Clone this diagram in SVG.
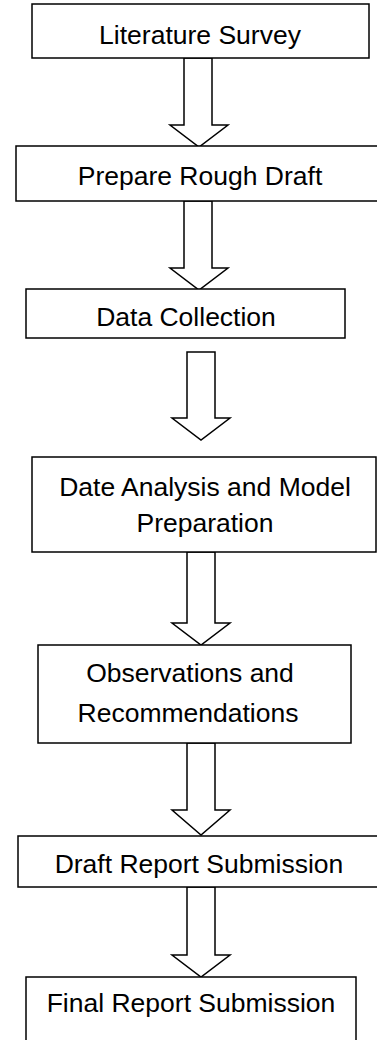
<svg xmlns="http://www.w3.org/2000/svg" width="377" height="1040" viewBox="0 0 377 1040">
<style>
.box{fill:#fff;stroke:#000;stroke-width:1.5}
.arr{fill:#fff;stroke:#000;stroke-width:1.5;stroke-linejoin:miter}
.lbl{font-family:"Liberation Sans",Arial,sans-serif;font-size:26.5px;fill:#000;text-anchor:middle}
</style>
<rect width="377" height="1040" fill="#fff"/>
<g id="connectors">
<polygon class="arr" points="184,58 212,58 212,125 228,125 199,147 170,125 184,125"/>
<polygon class="arr" points="184,201 212,201 212,268 228,268 199,290 170,268 184,268"/>
<polygon class="arr" points="187,352 215,352 215,418 230,418 201,440 172,418 187,418"/>
<polygon class="arr" points="187,552 215,552 215,623 230,623 201,645 172,623 187,623"/>
<polygon class="arr" points="187,743 215,743 215,810 230,810 201,835 172,810 187,810"/>
<polygon class="arr" points="187,887 215,887 215,955 230,955 201,977 172,955 187,955"/>
</g>
<g id="n1"><rect class="box" x="32" y="4" width="337" height="54"/><text class="lbl" x="200" y="44">Literature Survey</text></g>
<g id="n2"><rect class="box" x="16" y="146" width="370" height="55"/><text class="lbl" x="200" y="185">Prepare Rough Draft</text></g>
<g id="n3"><rect class="box" x="26" y="289" width="319" height="49"/><text class="lbl" x="186" y="326">Data Collection</text></g>
<g id="n4"><rect class="box" x="32" y="457" width="344" height="95"/><text class="lbl" x="205" y="496">Date Analysis and Model</text><text class="lbl" x="205" y="532">Preparation</text></g>
<g id="n5"><rect class="box" x="38" y="645" width="313" height="98"/><text class="lbl" x="190" y="682">Observations and</text><text class="lbl" x="188" y="722">Recommendations</text></g>
<g id="n6"><rect class="box" x="18" y="836" width="370" height="51"/><text class="lbl" x="199" y="873">Draft Report Submission</text></g>
<g id="n7"><rect class="box" x="26" y="977" width="330" height="80"/><text class="lbl" x="191" y="1012">Final Report Submission</text></g>
</svg>
